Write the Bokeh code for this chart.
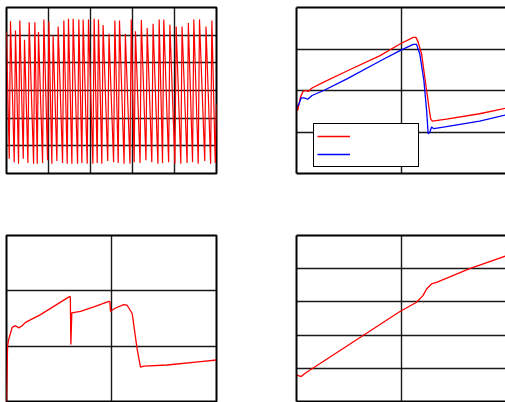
from bokeh.plotting import figure
from bokeh.layouts import column, row
from bokeh.models import FixedTicker, LinearAxis, Legend, LegendItem
from bokeh.embed import file_html
from bokeh.resources import INLINE

# ---------------- data ----------------
# Panel 1: dense oscillation (peaks and troughs)
wave_start = (0.0, 5.11)
wave_end = (5.0, 2.49)
wave_peak_x = [0.095, 0.214, 0.317, 0.429, 0.540, 0.675, 0.762, 0.889, 1.008, 1.11,
               1.23, 1.365, 1.476, 1.587, 1.722, 1.825, 1.952, 2.087, 2.19, 2.30,
               2.44, 2.58, 2.69, 2.83, 2.97, 3.07, 3.21, 3.35, 3.49, 3.635,
               3.745, 3.89, 4.04, 4.18, 4.33, 4.46, 4.595, 4.75, 4.89]
wave_peak_y = [5.50, 5.17, 5.53, 4.83, 5.47, 5.47, 5.11, 5.57, 5.50, 4.99,
               5.31, 5.53, 5.59, 5.59, 5.57, 5.57, 5.57, 5.59, 5.57, 5.37,
               5.05, 5.53, 5.53, 5.05, 5.57, 5.14, 5.55, 5.26, 5.41, 5.57,
               5.57, 5.38, 5.31, 5.31, 5.44, 5.57, 5.57, 5.31, 5.53]
wave_trough_x = [0.065, 0.184, 0.287, 0.399, 0.510, 0.645, 0.732, 0.859, 0.978, 1.08,
                 1.20, 1.335, 1.446, 1.557, 1.692, 1.795, 1.922, 2.057, 2.16, 2.27,
                 2.41, 2.55, 2.66, 2.80, 2.94, 3.04, 3.18, 3.32, 3.46, 3.605,
                 3.715, 3.86, 4.01, 4.15, 4.30, 4.43, 4.565, 4.72, 4.86, 4.97]
wave_trough_y = [0.53, 0.41, 0.35, 0.53, 0.38, 0.35, 0.35, 0.38, 0.48, 0.35,
                 0.45, 0.38, 0.35, 0.35, 0.35, 0.38, 0.35, 0.35, 0.38, 0.35,
                 0.45, 0.41, 0.38, 0.35, 0.35, 0.41, 0.38, 0.48, 0.41, 0.35,
                 0.38, 0.41, 0.35, 0.35, 0.38, 0.41, 0.35, 0.45, 0.35, 0.38]

# Panel 2: two series (red, blue)
red2_x = [0.0, 0.012, 0.038, 0.064, 0.086, 0.117, 0.149, 0.26, 0.483, 0.8, 0.99,
          1.117, 1.143, 1.165, 1.197, 1.245, 1.283, 1.30, 1.435, 1.752, 2.0]
red2_y = [1.61, 1.52, 1.84, 1.98, 2.0, 1.98, 2.06, 2.2, 2.47, 2.84, 3.12,
          3.28, 3.28, 3.16, 2.88, 2.0, 1.32, 1.26, 1.31, 1.44, 1.57]
blue2_x = [0.0, 0.019, 0.045, 0.07, 0.108, 0.149, 0.26, 0.483, 0.8, 0.99, 1.117,
           1.149, 1.18, 1.219, 1.245, 1.26, 1.276, 1.292, 1.314, 1.435, 1.752, 2.0]
blue2_y = [1.61, 1.65, 1.82, 1.82, 1.79, 1.88, 2.0, 2.28, 2.71, 2.96, 3.11,
           3.11, 2.88, 2.24, 1.52, 0.96, 0.995, 1.12, 1.08, 1.13, 1.26, 1.41]

# Panel 3
red3_x = [0.0, 0.01, 0.022, 0.054, 0.086, 0.117, 0.149, 0.181, 0.324, 0.603, 0.608,
          0.613, 0.622, 0.705, 0.832, 0.975, 0.985, 0.99, 1.038, 1.117, 1.149, 1.197,
          1.244, 1.276, 1.308, 1.53, 1.848, 2.0]
red3_y = [0.0, 1.0, 1.13, 1.34, 1.37, 1.33, 1.37, 1.43, 1.57, 1.90, 1.88,
          1.03, 1.60, 1.63, 1.71, 1.81, 1.80, 1.63, 1.69, 1.75, 1.74, 1.59,
          0.95, 0.62, 0.64, 0.66, 0.72, 0.75]

# Panel 4
red4_x = [0.0, 0.045, 0.086, 0.99, 1.149, 1.21, 1.245, 1.292, 1.34, 1.657, 2.0]
red4_y = [0.80, 0.75, 0.86, 2.71, 2.99, 3.19, 3.39, 3.54, 3.59, 4.0, 4.38]

# grid ticks
p1_xgrid = [1, 2, 3, 4]
p1_ygrid = [1, 2, 3, 4, 5]
p2_xgrid = [1]
p2_ygrid = [1, 2, 3]
p3_xgrid = [1]
p3_ygrid = [1, 2]
p4_xgrid = [1]
p4_ygrid = [1, 2, 3, 4]

RED = "#ff0000"
BLUE = "#0000ff"


def make_fig(width, height, xr, yr, xg, yg, mb, outline=True):
    p = figure(width=width, height=height, x_range=xr, y_range=yr,
               output_backend="svg", toolbar_location=None,
               min_border_left=mb[0], min_border_right=mb[1],
               min_border_top=mb[2], min_border_bottom=mb[3])
    p.background_fill_color = "white"
    p.border_fill_color = "white"
    p.xgrid.ticker = FixedTicker(ticks=xg)
    p.ygrid.ticker = FixedTicker(ticks=yg)
    for g in (p.xgrid, p.ygrid):
        g.grid_line_color = "black"
        g.grid_line_width = 1.4
        g.grid_line_alpha = 0.9
    if outline:
        p.axis.visible = False
        p.outline_line_color = "black"
        p.outline_line_width = 2
        p.outline_line_alpha = 1.0
    else:
        p.outline_line_color = None
        p.add_layout(LinearAxis(), "above")
        for ax in p.axis:
            ax.ticker = FixedTicker(ticks=[])
            ax.axis_line_color = "black"
            ax.axis_line_width = 2
            ax.major_tick_line_color = None
            ax.minor_tick_line_color = None
            ax.major_tick_out = 0
            ax.major_tick_in = 0
            ax.minor_tick_out = 0
            ax.minor_tick_in = 0
            ax.major_label_standoff = 0
            ax.major_label_text_font_size = "0px"
            ax.axis_label = None
    return p


# Panel 1
p1 = make_fig(219, 176, (0, 5), (0, 6), p1_xgrid, p1_ygrid, (6, 3, 7, 3))
wx = [wave_start[0]]
wy = [wave_start[1]]
for tx, ty, px, py in zip(wave_trough_x, wave_trough_y, wave_peak_x, wave_peak_y):
    wx += [tx, px]
    wy += [ty, py]
wx += [wave_trough_x[-1], wave_end[0]]
wy += [wave_trough_y[-1], wave_end[1]]
p1.line(wx, wy, line_color=RED, line_width=1.2)

# Panel 2
p2 = make_fig(286, 176, (0, 2), (0, 4), p2_xgrid, p2_ygrid, (77, 0, 7, 3), outline=False)
r_red = p2.line(red2_x, red2_y, line_color=RED, line_width=1.3)
r_blue = p2.line(blue2_x, blue2_y, line_color=BLUE, line_width=1.3)
legend = Legend(items=[LegendItem(label=" ", renderers=[r_red]),
                       LegendItem(label=" ", renderers=[r_blue])],
                location=(17, 6), orientation="vertical", margin=0,
                padding=3, spacing=0, glyph_width=33, glyph_height=18,
                label_height=18, label_width=60, label_standoff=5,
                label_text_font_size="10px",
                border_line_color="black", border_line_width=1.5,
                border_line_alpha=1.0,
                background_fill_color="white", background_fill_alpha=1.0)
p2.add_layout(legend)

# Panel 3
p3 = make_fig(219, 226, (0, 2), (0, 3), p3_xgrid, p3_ygrid, (6, 3, 59, 1))
p3.line(red3_x, red3_y, line_color=RED, line_width=1.3)

# Panel 4
p4 = make_fig(286, 226, (0, 2), (0, 5), p4_xgrid, p4_ygrid, (77, 0, 59, 1), outline=False)
p4.line(red4_x, red4_y, line_color=RED, line_width=1.3)

layout = column(row(p1, p2), row(p3, p4))

open("out.html", "w").write(file_html(layout, INLINE))
